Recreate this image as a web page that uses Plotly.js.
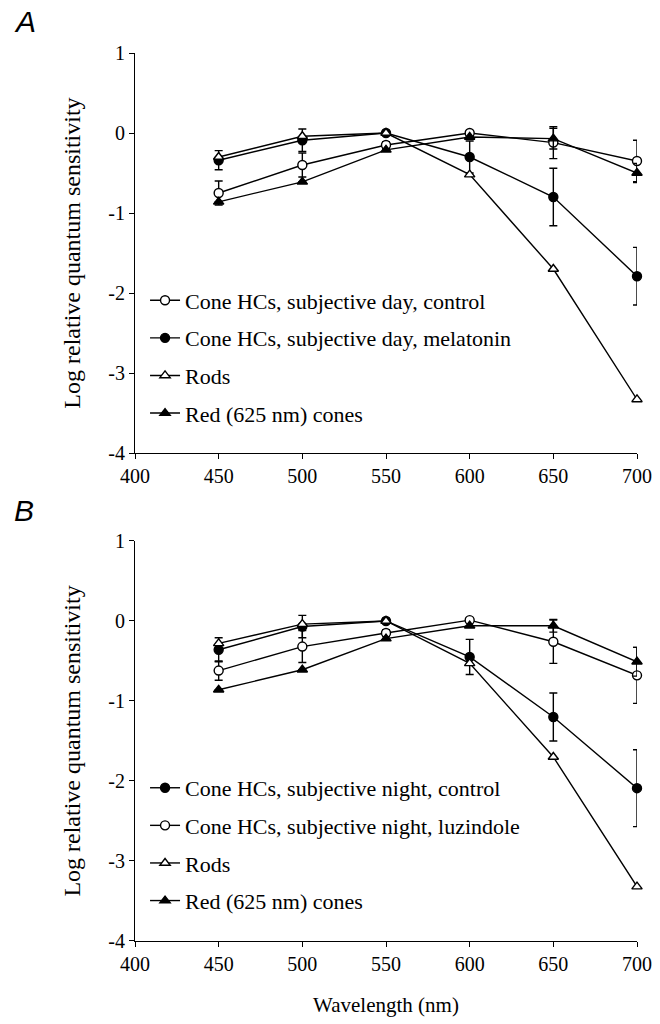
<!DOCTYPE html>
<html>
<head>
<meta charset="utf-8">
<script src="https://cdn.plot.ly/plotly-3.0.1.min.js"></script>
<style>html,body{margin:0;padding:0;background:#fff;}#chart{width:660px;height:1024px;}</style>
</head>
<body>
<div id="chart"></div>
<script>
// ---- data ----
const wavelengths = [450, 500, 550, 600, 650, 700];

// Panel A
const dayControl     = [-0.75, -0.40, -0.15, 0.00, -0.12, -0.35];
const dayControlErr  = [0.15, 0.15, 0.04, 0.03, 0.20, 0.26];
const dayMelatonin   = [-0.34, -0.09, 0.00, -0.30, -0.80, -1.79];
const dayMelatoninErr= [0.12, 0.14, 0.03, 0.20, 0.36, 0.36];
const rodsA          = [-0.30, -0.04, 0.00, -0.52, -1.70, -3.33];
const redConesA      = [-0.86, -0.61, -0.21, -0.05, -0.07, -0.50];
const redConesAErr   = [0.00, 0.00, 0.00, 0.00, 0.13, 0.12];

// Panel B
const nightControl     = [-0.36, -0.07, 0.00, -0.45, -1.20, -2.09];
const nightControlErr  = [0.15, 0.14, 0.03, 0.22, 0.30, 0.48];
const nightLuzindole   = [-0.62, -0.32, -0.15, 0.01, -0.26, -0.68];
const nightLuzindoleErr= [0.12, 0.20, 0.04, 0.03, 0.27, 0.35];
const rodsB            = [-0.28, -0.04, 0.00, -0.53, -1.70, -3.32];
const redConesB        = [-0.86, -0.61, -0.22, -0.06, -0.06, -0.51];
const redConesBErr     = [0.00, 0.00, 0.00, 0.00, 0.08, 0.18];

const namesA = ['Cone HCs, subjective day, control', 'Cone HCs, subjective day, melatonin', 'Rods', 'Red (625 nm) cones'];
const namesB = ['Cone HCs, subjective night, control', 'Cone HCs, subjective night, luzindole', 'Rods', 'Red (625 nm) cones'];

const xTickVals = [400, 450, 500, 550, 600, 650, 700];
const yTickVals = [-4, -3, -2, -1, 0, 1];
const yTickText = ['-4', '-3', '-2', '-1', '0', '1'];

// ---- styling ----
const serif = 'Liberation Serif, Times New Roman, serif';
const black = '#000';

function trace(y, err, name, symbol, fill, xa, ya, leg, grp) {
  const t = {
    x: wavelengths, y: y, name: name, type: 'scatter', mode: 'lines+markers',
    xaxis: xa, yaxis: ya, legend: leg, legendgroup: grp, cliponaxis: false,
    line: {color: black, width: 1.4},
    marker: {symbol: symbol, size: 9, color: fill, line: {color: black, width: 1.4}}
  };
  if (err) {
    t.error_y = {type: 'data', array: err, visible: true, color: black, thickness: 1.4, width: 4};
  }
  return t;
}

const data = [
  trace(dayControl, dayControlErr, namesA[0], 'circle', '#fff', 'x', 'y', 'legend', 'a1'),
  trace(dayMelatonin, dayMelatoninErr, namesA[1], 'circle', black, 'x', 'y', 'legend', 'a2'),
  trace(rodsA, null, namesA[2], 'triangle-up', '#fff', 'x', 'y', 'legend', 'a3'),
  trace(redConesA, redConesAErr, namesA[3], 'triangle-up', black, 'x', 'y', 'legend', 'a4'),
  trace(nightControl, nightControlErr, namesB[0], 'circle', black, 'x2', 'y2', 'legend2', 'b1'),
  trace(nightLuzindole, nightLuzindoleErr, namesB[1], 'circle', '#fff', 'x2', 'y2', 'legend2', 'b2'),
  trace(rodsB, null, namesB[2], 'triangle-up', '#fff', 'x2', 'y2', 'legend2', 'b3'),
  trace(redConesB, redConesBErr, namesB[3], 'triangle-up', black, 'x2', 'y2', 'legend2', 'b4')
];

const tickFont = {family: serif, size: 20, color: black};

function xaxis(anchor, title) {
  const a = {
    anchor: anchor, domain: [0, 1], range: [400, 700], tickvals: xTickVals,
    showline: true, linecolor: black, linewidth: 1, ticks: 'outside', ticklen: 5,
    tickcolor: black, tickwidth: 1, showgrid: false, zeroline: false, tickfont: tickFont
  };
  if (title) a.title = {text: title, font: {family: serif, size: 21, color: black}, standoff: 23};
  return a;
}
function yaxis(anchor, domain) {
  return {
    anchor: anchor, domain: domain, range: [-4, 1], tickvals: yTickVals, ticktext: yTickText,
    showline: true, linecolor: black, linewidth: 1, ticks: 'outside', ticklen: 5,
    tickcolor: black, tickwidth: 1, showgrid: false, zeroline: false, tickfont: tickFont,
    title: {text: 'Log relative quantum sensitivity', font: {family: serif, size: 24, color: black}, standoff: 20}
  };
}

const legendBase = {
  font: {family: serif, size: 22, color: black}, bgcolor: 'rgba(0,0,0,0)',
  borderwidth: 0, tracegroupgap: 6, itemclick: false, xanchor: 'left', yanchor: 'top'
};

const layout = {
  width: 660, height: 1024, paper_bgcolor: '#fff', plot_bgcolor: '#fff',
  margin: {l: 135, r: 23, t: 53, b: 83},
  showlegend: true,
  xaxis: xaxis('y', null),
  yaxis: yaxis('x', [0.5495, 1]),
  xaxis2: xaxis('y2', 'Wavelength (nm)'),
  yaxis2: yaxis('x2', [0, 0.4505]),
  legend: Object.assign({x: 0.02, y: 0.745}, legendBase),
  legend2: Object.assign({x: 0.02, y: 0.196}, legendBase),
  annotations: [
    {text: '<i>A</i>', xref: 'paper', yref: 'paper', x: -0.245, y: 1.035, xanchor: 'left', yanchor: 'middle',
     showarrow: false, font: {family: 'Liberation Sans, Arial, sans-serif', size: 30, color: black}},
    {text: '<i>B</i>', xref: 'paper', yref: 'paper', x: -0.245, y: 0.485, xanchor: 'left', yanchor: 'middle',
     showarrow: false, font: {family: 'Liberation Sans, Arial, sans-serif', size: 30, color: black}}
  ]
};

Plotly.newPlot('chart', data, layout, {displayModeBar: false, staticPlot: true});
</script>
</body>
</html>
